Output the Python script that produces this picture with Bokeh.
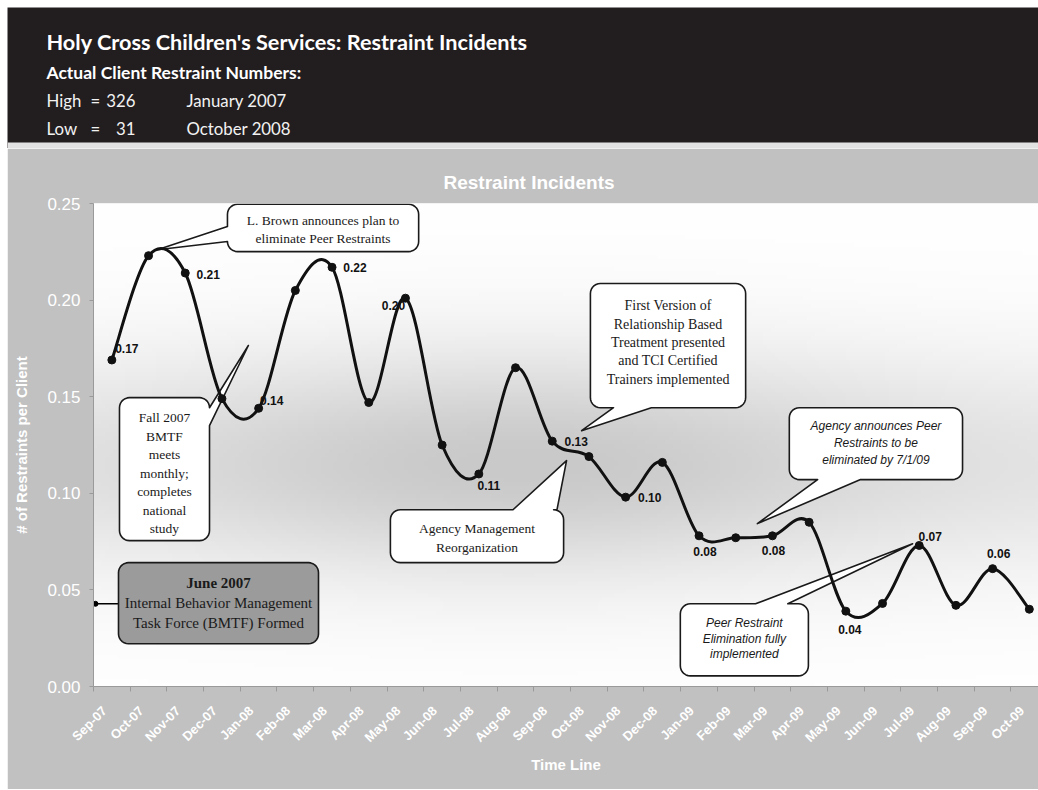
import numpy as np
from bokeh.plotting import figure
from bokeh.models import Range1d, FixedTicker, Label, ColumnDataSource, NumeralTickFormatter
from bokeh.layouts import column
from bokeh.embed import file_html
from bokeh.resources import INLINE
from bokeh.core.properties import value

# ---------------- data ----------------
header_title = "Holy Cross Children's Services: Restraint Incidents"
header_sub = "Actual Client Restraint Numbers:"
stat_names = ["High", "Low"]
stat_values = [326, 31]
stat_dates = ["January 2007", "October 2008"]

chart_title = "Restraint Incidents"
x_title = "Time Line"
y_title = "# of Restraints per Client"

months = ["Sep-07", "Oct-07", "Nov-07", "Dec-07", "Jan-08", "Feb-08", "Mar-08", "Apr-08",
          "May-08", "Jun-08", "Jul-08", "Aug-08", "Sep-08", "Oct-08", "Nov-08", "Dec-08",
          "Jan-09", "Feb-09", "Mar-09", "Apr-09", "May-09", "Jun-09", "Jul-09", "Aug-09",
          "Sep-09", "Oct-09"]
rates = [0.169, 0.223, 0.214, 0.149, 0.144, 0.205, 0.217, 0.147, 0.201, 0.125, 0.110, 0.165,
         0.127, 0.119, 0.098, 0.116, 0.078, 0.077, 0.078, 0.085, 0.039, 0.043, 0.073, 0.042,
         0.061, 0.040]
labeled_months = ["Sep-07", "Nov-07", "Jan-08", "Mar-08", "May-08", "Jul-08", "Sep-08",
                  "Nov-08", "Jan-09", "Mar-09", "May-09", "Jul-09", "Sep-09"]
labeled_text = ["0.17", "0.21", "0.14", "0.22", "0.20", "0.11", "0.13", "0.10", "0.08",
                "0.08", "0.04", "0.07", "0.06"]
y_ticks = [0, 0.05, 0.10, 0.15, 0.20, 0.25]

# ---------------- styles ----------------
W = 1031
HDR_H = 141
CH_H = 641
X_END = 25.25
PX_X = 945.0 / (X_END + 0.5)
PX_Y = 483.0 / 0.25
LABEL_SHIFT = 0.2   # tick-label anchor shift (category units), mimics the rotated label placement
label_dx = [15, 23, 13, 23, -12, 10, 24, 24, 6, 1, 4, 11, 6]
label_dy = [-11, 1, -8, 0, 7, 12, 0, 0, 16, 15, 18, -9, -15]

# ---------------- header ----------------
hdr = figure(width=W, height=HDR_H, x_range=Range1d(0, W), y_range=Range1d(HDR_H, 0),
             x_axis_type=None, y_axis_type=None,
             toolbar_location=None, output_backend="svg", min_border=0)
hdr.grid.visible = False
hdr.outline_line_color = None
hdr.background_fill_color = "#221e1f"
hdr.border_fill_color = "#221e1f"
hdr.quad(left=[0], right=[W], top=[135], bottom=[HDR_H], fill_color="#e2e2e2", line_color=None)

HF = "Lato"
hdr.add_layout(Label(x=39, y=34, text=header_title, text_font=HF, text_font_size="21.7px",
                     text_font_style="bold", text_color="white", text_baseline="alphabetic"))
hdr.add_layout(Label(x=39, y=64.5, text=header_sub, text_font=HF, text_font_size="17.5px",
                     text_font_style="bold", text_color="white", text_baseline="alphabetic"))
for i, (nm, v, d) in enumerate(zip(stat_names, stat_values, stat_dates)):
    yb = 93 + i * 27.5
    common = dict(text_font=HF, text_font_size="16.8px", text_color="#f2f2f2",
                  text_baseline="alphabetic")
    hdr.add_layout(Label(x=39, y=yb, text=nm, **common))
    hdr.add_layout(Label(x=83, y=yb, text="=", **common))
    hdr.add_layout(Label(x=128, y=yb, text=str(v), text_align="right", **common))
    hdr.add_layout(Label(x=179, y=yb, text=d, **common))

# ---------------- chart ----------------
p = figure(width=W, height=CH_H, x_range=Range1d(-0.5, X_END), y_range=Range1d(0, 0.25),
           toolbar_location=None, output_backend="svg",
           min_border_left=86, min_border_right=0, min_border_top=55, min_border_bottom=103)
p.border_fill_color = "#c1c1c1"
p.background_fill_color = "white"
p.outline_line_color = None

for f in (hdr, p):
    if "frame_align" in f.properties():
        f.frame_align = False

# soft background shading of the plot area
ny, nx = 120, 240
yy = np.linspace(0, 0.25, ny)[:, None]
xx = np.linspace(93, 1038, nx)[None, :]
shade = 54 * np.exp(-((yy - 0.115) / 0.06) ** 2) * (0.45 + 0.55 * np.exp(-((xx - 520) / 360) ** 2))
g = (255 - shade).astype(np.uint8)
img = np.empty((ny, nx), dtype=np.uint32)
view = img.view(dtype=np.uint8).reshape((ny, nx, 4))
view[:, :, 0] = g
view[:, :, 1] = g
view[:, :, 2] = g
view[:, :, 3] = 255
p.image_rgba(image=[img], x=-0.5, y=0, dw=X_END + 0.5, dh=0.25)

# title
p.title.text = chart_title
p.title.align = "left"
p.title.offset = 350
p.title.standoff = 22
p.title.text_color = "white"
p.title.text_font = "Liberation Sans"
p.title.text_font_size = "19px"
p.title.text_font_style = "bold"

# axes
xi = list(range(len(months)))
tick_pos = [round(i - LABEL_SHIFT, 3) for i in xi]
p.xaxis.ticker = FixedTicker(ticks=tick_pos,
                             minor_ticks=[i - 0.5 for i in range(len(months) + 1)])
p.xaxis.major_label_overrides = {t: m for t, m in zip(tick_pos, months)}
p.xaxis.major_label_orientation = np.pi / 4
p.xaxis.major_tick_line_color = None
p.xaxis.minor_tick_line_color = "#9a9a9a"
p.xaxis.minor_tick_out = 5
p.xaxis.minor_tick_in = 0
p.xaxis.major_label_text_color = "white"
p.xaxis.major_label_text_font = "Liberation Sans"
p.xaxis.major_label_text_font_size = "13px"
p.xaxis.major_label_text_font_style = "bold"
p.xaxis.major_label_standoff = 16
p.xaxis.axis_line_color = "#9a9a9a"
p.xaxis.axis_label = x_title
p.xaxis.axis_label_text_color = "white"
p.xaxis.axis_label_text_font = "Liberation Sans"
p.xaxis.axis_label_text_font_size = "15px"
p.xaxis.axis_label_text_font_style = "bold"
p.xaxis.axis_label_standoff = 3

p.yaxis.ticker = FixedTicker(ticks=y_ticks)
p.yaxis.formatter = NumeralTickFormatter(format="0.00")
p.yaxis.major_tick_line_color = "#9a9a9a"
p.yaxis.major_tick_out = 4
p.yaxis.major_tick_in = 0
p.yaxis.minor_tick_line_color = None
p.yaxis.axis_line_color = "#9a9a9a"
p.yaxis.major_label_text_color = "white"
p.yaxis.major_label_text_font = "Liberation Sans"
p.yaxis.major_label_text_font_size = "17px"
p.yaxis.major_label_standoff = 9
p.yaxis.axis_label = y_title
p.yaxis.axis_label_text_color = "white"
p.yaxis.axis_label_text_font = "Liberation Sans"
p.yaxis.axis_label_text_font_size = "15px"
p.yaxis.axis_label_text_font_style = "bold"
p.yaxis.axis_label_standoff = 14

p.xgrid.grid_line_color = None
p.ygrid.ticker = FixedTicker(ticks=y_ticks)
p.ygrid.grid_line_color = "#bdbdbd"
p.ygrid.grid_line_width = 1


# ---------------- callouts ----------------
def bubble(x0, x1, y0, y1, r_px=10, tail=None):
    rx, ry = r_px / PX_X, r_px / PX_Y
    pts = []

    def arc(cx, cy, a0, a1):
        for t in np.linspace(a0, a1, 8):
            pts.append((cx + rx * np.cos(t), cy + ry * np.sin(t)))

    edge, b1, b2, tip = tail if tail else (None, 0, 0, None)
    lo, hi = min(b1, b2), max(b1, b2)
    arc(x0 + rx, y1 - ry, np.pi, np.pi / 2)
    if edge == "top":
        pts += [(lo, y1), tip, (hi, y1)]
    arc(x1 - rx, y1 - ry, np.pi / 2, 0)
    if edge == "right":
        pts += [(x1, hi), tip, (x1, lo)]
    arc(x1 - rx, y0 + ry, 0, -np.pi / 2)
    if edge == "bottom":
        pts += [(hi, y0), tip, (lo, y0)]
    arc(x0 + rx, y0 + ry, -np.pi / 2, -np.pi)
    if edge == "left":
        pts += [(x0, lo), tip, (x0, hi)]
    xs = [a for a, b in pts]
    ys = [b for a, b in pts]
    return xs, ys


callouts = [
    dict(box=(3.15, 8.36, 0.2251, 0.2496), tail=("left", 0.2381, 0.2303, (1.24, 0.2261)),
         lines=["L. Brown announces plan to", "eliminate Peer Restraints"],
         font="Liberation Serif", size=13.5, style="normal", sp=18, fill="white", dy=2),
    dict(box=(0.208, 2.661, 0.0755, 0.1495), tail=("right", 0.1443, 0.1350, (3.72, 0.1765)),
         lines=["Fall 2007", "BMTF", "meets", "monthly;", "completes", "national", "study"],
         font="Liberation Serif", size=13.5, style="normal", sp=18.5, fill="white", dy=4),
    dict(box=(0.181, 5.631, 0.0221, 0.0641), tail=None,
         lines=["June 2007", "Internal Behavior Management", "Task Force (BMTF) Formed"],
         font="Liberation Serif", size=15, style="normal", sp=20, fill="#9b9b9b", dy=0,
         bold_first=True),
    dict(box=(13.04, 17.27, 0.1443, 0.2086), tail=("bottom", 13.67, 14.70, (12.80, 0.1324)),
         lines=["First Version of", "Relationship Based", "Treatment presented",
                "and TCI Certified", "Trainers implemented"],
         font="Liberation Serif", size=14, style="normal", sp=18.3, fill="white", dy=-3),
    dict(box=(18.46, 23.18, 0.1071, 0.1443), tail=("bottom", 19.23, 20.40, (17.59, 0.0843)),
         lines=["Agency announces Peer", "Restraints to be", "eliminated by 7/1/09"],
         font="Liberation Sans", size=12, style="italic", sp=17, fill="white", dy=-1),
    dict(box=(7.59, 12.31, 0.0641, 0.0915), tail=("top", 10.93, 12.13, (12.39, 0.1169)),
         lines=["Agency Management", "Reorganization"],
         font="Liberation Serif", size=13.5, style="normal", sp=19, fill="white", dy=2),
    dict(box=(15.49, 18.98, 0.0055, 0.0428), tail=("top", 17.54, 18.42, (21.82, 0.0739)),
         lines=["Peer Restraint", "Elimination fully", "implemented"],
         font="Liberation Sans", size=12, style="italic", sp=15.5, fill="white", dy=-1),
]

# connector of the June 2007 box
p.line(x=[-0.446, 0.181], y=[0.0428, 0.0428], line_color="black", line_width=1.5)
p.scatter(x=[-0.446], y=[0.0428], size=5, color="black")

for c in callouts:
    x0, x1, y0, y1 = c["box"]
    xs, ys = bubble(x0, x1, y0, y1, 10, c["tail"])
    p.patch(xs, ys, fill_color=c["fill"], line_color="#1a1a1a", line_width=1.6,
            line_join="round")
    cx, cy = (x0 + x1) / 2, (y0 + y1) / 2
    n = len(c["lines"])
    for k, t in enumerate(c["lines"]):
        st = "bold" if (k == 0 and c.get("bold_first")) else c["style"]
        p.text(x=[cx], y=[cy], text=[t], x_offset=0,
               y_offset=(k - (n - 1) / 2) * c["sp"] + c["dy"],
               text_align="center", text_baseline="middle",
               text_font=value(c["font"]), text_font_size=f"{c['size']}px",
               text_font_style=st, text_color="#1a1a1a")

# ---------------- smoothed series line ----------------
xa = np.array(xi, dtype=float)
ya = np.array(rates, dtype=float)
xp = np.concatenate([[xa[0]], xa, [xa[-1]]])
yp = np.concatenate([[ya[0]], ya, [ya[-1]]])
seg = ColumnDataSource(dict(
    x0=xa[:-1], y0=ya[:-1], x1=xa[1:], y1=ya[1:],
    cx0=xa[:-1] + (xp[2:-1] - xp[:-3]) / 6, cy0=ya[:-1] + (yp[2:-1] - yp[:-3]) / 6,
    cx1=xa[1:] - (xp[3:] - xp[1:-2]) / 6, cy1=ya[1:] - (yp[3:] - yp[1:-2]) / 6,
))
p.bezier(x0="x0", y0="y0", x1="x1", y1="y1", cx0="cx0", cy0="cy0", cx1="cx1", cy1="cy1",
         source=seg, line_color="#111111", line_width=3)
p.scatter(x=xi, y=rates, size=8, color="#111111")

# data labels
lab_x = [months.index(m) for m in labeled_months]
lab_y = [rates[i] for i in lab_x]
p.text(x=lab_x, y=lab_y, text=labeled_text, x_offset=label_dx, y_offset=label_dy,
       text_align="center", text_baseline="middle", text_font=value("Liberation Sans"),
       text_font_size="12px", text_font_style="bold", text_color="#111111")

layout = column(hdr, p, margin=(7, 0, 0, 7))
open("out.html", "w").write(file_html(layout, INLINE))
